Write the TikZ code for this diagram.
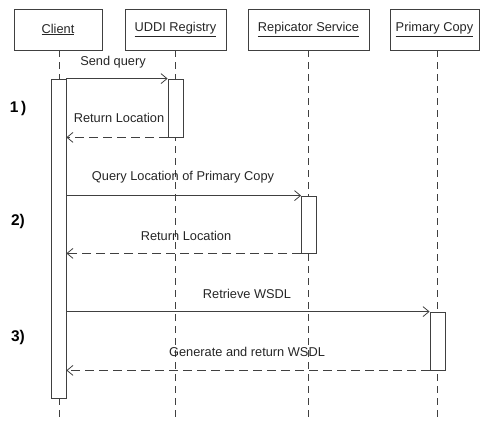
\documentclass[tikz,border=0pt]{standalone}
\usepackage{fontspec}
\setmainfont{Liberation Sans}
\usetikzlibrary{arrows.meta}
\begin{document}
\begin{tikzpicture}[x=1pt,y=-1pt,
  every node/.style={font=\fontsize{12.8}{15}\selectfont, text=black!85, inner sep=0pt},
  obj/.style={draw=black!75, line width=0.8pt, minimum height=41pt, fill=white},
  act/.style={draw=black!75, line width=0.8pt, fill=white, minimum width=15pt},
  life/.style={draw=black!75, line width=0.8pt, dash pattern=on 7pt off 5pt},
  msg/.style={draw=black!75, line width=0.8pt, -{Straight Barb[length=6pt,width=10pt,line width=0.8pt]}},
  ret/.style={msg, dash pattern=on 9pt off 5pt},
  step/.style={},
  stepnum/.style={font=\bfseries\fontsize{15.5}{18}\selectfont, text=black}
]
\useasboundingbox (0,0) rectangle (483,421);
% lifelines
\coordinate (cl0) at (59,50);
\coordinate (cl1) at (59,421);
\coordinate (ul0) at (175,50);
\coordinate (ul1) at (175,421);
\coordinate (rl0) at (308,50);
\coordinate (rl1) at (308,421);
\coordinate (pl0) at (437,50);
\coordinate (pl1) at (437,421);
\draw[life] (cl0) -- (cl1);
\draw[life] (ul0) -- (ul1);
\draw[life] (rl0) -- (rl1);
\draw[life] (pl0) -- (pl1);
% object boxes
\node[obj, minimum width=88pt] (client) at (58,29.5) {\underline{Client}};
\node[obj, minimum width=101pt] (uddi) at (175.5,29.5) {\underline{UDDI Registry}};
\node[obj, minimum width=121pt] (rep) at (308.5,29.5) {\underline{Repicator Service}};
\node[obj, minimum width=89pt] (prim) at (434.5,29.5) {\underline{Primary Copy}};
% activations
\node[act, minimum height=319pt] (cact) at (58.5,238.5) {};
\node[act, minimum height=58pt] (uact) at (175.5,108) {};
\node[act, minimum height=57pt] (ract) at (309,224.5) {};
\node[act, minimum height=58pt] (pact) at (437.5,341) {};
% messages
\draw[msg] (cact.north east) -- (uact.north west);
\draw[ret] (uact.south west) -- (cact.east |- uact.south);
\draw[msg] (cact.east |- ract.north) -- (ract.north west);
\draw[ret] (ract.south west) -- (cact.east |- ract.south);
\draw[msg] (cact.east |- pact.north) -- (pact.north west);
\draw[ret] (pact.south west) -- (cact.east |- pact.south);
% labels
\node (l1) at (113,62) {Send query};
\node (l2) at (119,118) {Return Location};
\node (l3) at (183,177) {Query Location of Primary Copy};
\node (l4) at (186,236) {Return Location};
\node (l5) at (247,294) {Retrieve WSDL};
\node (l6) at (247,352) {Generate and return WSDL};
% step numbers
\node[stepnum] (s1) at (18,108) {1\,)};
\node[stepnum] (s2) at (18,221) {2)};
\node[stepnum] (s3) at (18,337) {3)};
\end{tikzpicture}
\end{document}
